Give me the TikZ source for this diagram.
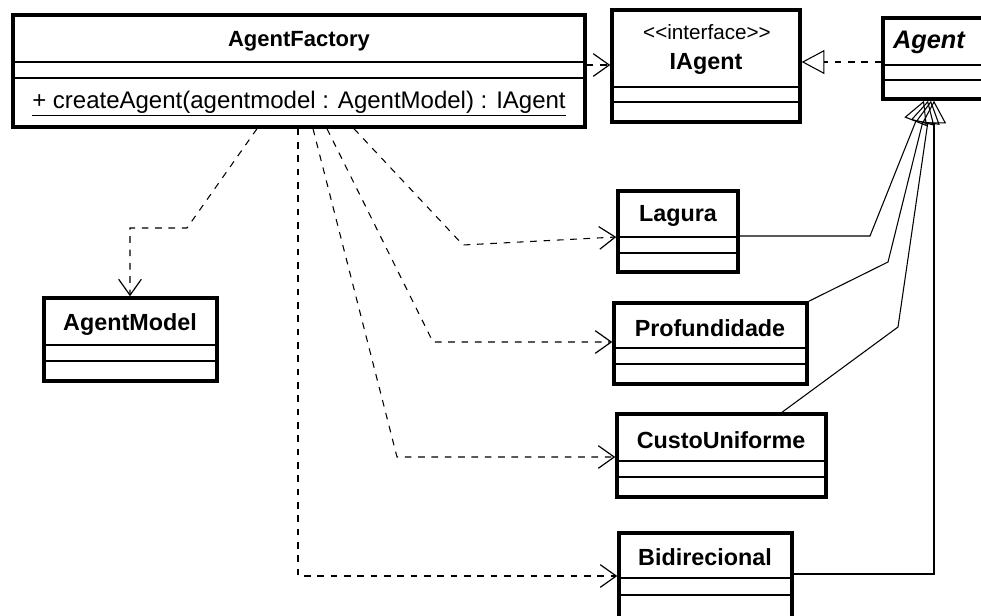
\documentclass[tikz,border=0pt]{standalone}
\usepackage{fontspec}
\setmainfont{Liberation Sans}
\usetikzlibrary{arrows.meta,fit}
\begin{document}
\begin{tikzpicture}[x=0.75pt,y=-0.75pt,
 cls/.style={draw,line width=2.6pt,inner sep=0pt,fill=white},
 divline/.style={line width=0.8pt},
 clsname/.style={font=\fontsize{17.5}{20}\selectfont\bfseries,inner sep=0pt},
 opname/.style={font=\fontsize{18}{20}\selectfont,inner sep=0pt},
 stereo/.style={font=\fontsize{15.5}{17}\selectfont,inner sep=0pt},
 dep/.style={line width=0.8pt,dash pattern=on 5pt off 5pt,-{Straight Barb[length=12pt,width=17pt,line width=0.9pt]}},
 gen/.style={line width=0.8pt,-{Triangle[open,length=17pt,width=18pt,line width=0.8pt]}},
 real/.style={line width=0.8pt,dash pattern=on 5pt off 5pt,-{Triangle[open,length=17pt,width=18pt,line width=0.8pt]}}]
\fill[white] (0,0) rectangle (981,615);
\useasboundingbox (0,0) rectangle (981,615);

% classes
\node[cls, fit={(13,15) (585,127)}] (factory) {};
\draw[divline] (factory.west |- 0,62) -- (factory.east |- 0,62);
\draw[divline] (factory.west |- 0,78) -- (factory.east |- 0,78);
\node[clsname,font=\fontsize{16.5}{19}\selectfont\bfseries] (factoryname) at (299,41) {AgentFactory};
\node[opname] (factoryop) at (299,104) {\underline{+ createAgent(agentmodel : AgentModel) : IAgent}};

\node[cls, fit={(612,10) (800,122)}] (iagent) {};
\draw[divline] (iagent.west |- 0,87) -- (iagent.east |- 0,87);
\draw[divline] (iagent.west |- 0,102) -- (iagent.east |- 0,102);
\node[stereo] (iagentst) at (707,32) {{<}{<}interface{>}{>}};
\node[clsname] (iagentname) at (706,64) {IAgent};

\node[cls, fit={(883,18) (995,99)}] (agent) {};
\draw[divline] (agent.west |- 0,65) -- (agent.east |- 0,65);
\draw[divline] (agent.west |- 0,80) -- (agent.east |- 0,80);
\node[clsname,font=\fontsize{19}{21}\selectfont\bfseries\itshape] (agentname) at (929,42) {Agent};

\node[cls, fit={(44,298) (217,381)}] (model) {};
\draw[divline] (model.west |- 0,345) -- (model.east |- 0,345);
\draw[divline] (model.west |- 0,361) -- (model.east |- 0,361);
\node[clsname] (modelname) at (130,325) {AgentModel};

\node[cls, fit={(618,191) (738,272)}] (lagura) {};
\draw[divline] (lagura.west |- 0,237) -- (lagura.east |- 0,237);
\draw[divline] (lagura.west |- 0,253) -- (lagura.east |- 0,253);
\node[clsname] (laguraname) at (678,216) {Lagura};

\node[cls, fit={(614,303) (807,384)}] (prof) {};
\draw[divline] (prof.west |- 0,348) -- (prof.east |- 0,348);
\draw[divline] (prof.west |- 0,364) -- (prof.east |- 0,364);
\node[clsname] (profname) at (710,328) {Profundidade};

\node[cls, fit={(617,414) (826,497)}] (custo) {};
\draw[divline] (custo.west |- 0,461) -- (custo.east |- 0,461);
\draw[divline] (custo.west |- 0,477) -- (custo.east |- 0,477);
\node[clsname] (custoname) at (721,440) {CustoUniforme};

\node[cls, fit={(619,533) (792,625)}] (bidi) {};
\draw[divline] (bidi.west |- 0,578) -- (bidi.east |- 0,578);
\draw[divline] (bidi.west |- 0,595) -- (bidi.east |- 0,595);
\node[clsname] (bidiname) at (705,557) {Bidirecional};

% dependencies
\draw[dep] (factory.east |- 0,65) -- (iagent.west |- 0,65);
\draw[dep] (factory.south -| 257,0) -- (187,228) -- (130,228) -- (model.north -| 130,0);
\draw[dep] (factory.south -| 354,0) -- (463,245) -- (lagura.west |- 0,237);
\draw[dep] (factory.south -| 327,0) -- (433,342) -- (prof.west |- 0,342);
\draw[dep] (factory.south -| 313,0) -- (397,457) -- (custo.west |- 0,457);
\draw[dep] (factory.south -| 298,0) -- (298,576) -- (bidi.west |- 0,576);

% realization
\draw[real] (agent.west |- 0,62) -- (iagent.east |- 0,62);

% generalizations
\draw[gen] (lagura.east |- 0,236) -- (870,236) -- (agent.south -| 924,0);
\draw[gen] (prof.north east) -- (888,262) -- (agent.south -| 928,0);
\draw[gen] (custo.north -| 782,0) -- (898,327) -- (agent.south -| 931,0);
\draw[gen] (bidi.east |- 0,574) -- (934,574) -- (agent.south -| 934,0);
\end{tikzpicture}
\end{document}
